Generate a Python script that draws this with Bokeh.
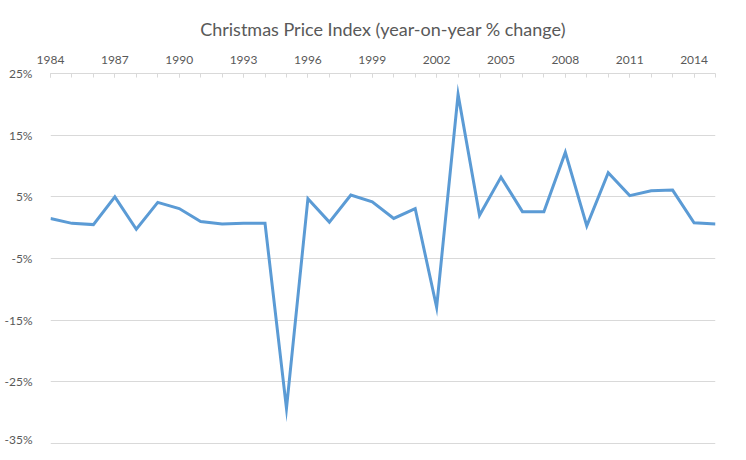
from bokeh.plotting import figure
from bokeh.models import Range1d, FixedTicker, PrintfTickFormatter, ColumnDataSource
from bokeh.embed import file_html
from bokeh.resources import INLINE

years = list(range(1984, 2016))
pct_change = [1.5, 0.7, 0.5, 5.0, -0.25, 4.1, 3.1, 1.0, 0.6, 0.7, 0.7, -29.3,
              4.7, 0.9, 5.3, 4.2, 1.5, 3.1, -12.9, 21.6, 2.0, 8.2, 2.6, 2.6,
              12.2, 0.3, 8.9, 5.2, 6.0, 6.1, 0.8, 0.6]
label_years = list(range(1984, 2015, 3))
y_ticks = [-35, -25, -15, -5, 5, 15, 25]

FONT = "Lato"
GREY = "#595959"

src = ColumnDataSource(dict(year=years, pct=pct_change))

p = figure(frame_width=665, frame_height=371, output_backend="svg", toolbar_location=None,
           x_axis_location="above",
           x_range=Range1d(1984, 2015), y_range=Range1d(-35.16, 25),
           title="Christmas Price Index (year-on-year % change)",
           min_border_left=50, min_border_right=15, min_border_bottom=2,
           min_border_top=73)

p.title.align = "center"
p.title.text_font = FONT
p.title.text_font_size = "18px"
p.title.text_font_style = "normal"
p.title.text_color = GREY
p.title.standoff = 26

p.line("year", "pct", source=src, line_color="#5B9BD5", line_width=3,
       line_join="miter")

xa = p.xaxis[0]
xa.ticker = FixedTicker(ticks=label_years, minor_ticks=years)
xa.major_tick_in = 4
xa.major_tick_out = 0
xa.minor_tick_in = 4
xa.minor_tick_out = 0
xa.major_tick_line_color = "#D9D9D9"
xa.minor_tick_line_color = "#D9D9D9"
xa.axis_line_color = "#D9D9D9"
xa.major_label_text_font = FONT
xa.major_label_text_font_size = "12px"
xa.major_label_text_color = GREY
xa.major_label_standoff = 10

ya = p.yaxis[0]
ya.ticker = FixedTicker(ticks=y_ticks)
ya.formatter = PrintfTickFormatter(format="%d%%")
ya.axis_line_color = None
ya.major_tick_line_color = None
ya.minor_tick_line_color = None
ya.major_label_text_font = FONT
ya.major_label_text_font_size = "12px"
ya.major_label_text_color = GREY
ya.major_label_standoff = 12

p.xgrid.grid_line_color = None
p.ygrid.ticker = FixedTicker(ticks=y_ticks)
p.ygrid.grid_line_color = "#D9D9D9"
p.ygrid.grid_line_width = 1
p.outline_line_color = None

open("out.html", "w").write(file_html(p, INLINE))
